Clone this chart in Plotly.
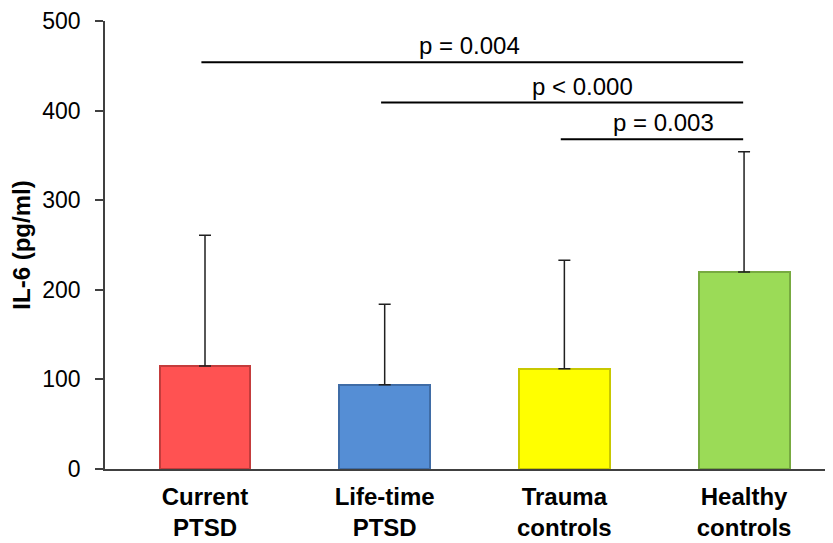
import plotly.graph_objects as go

# ---- data ----
groups = ["Current PTSD", "Life-time PTSD", "Trauma controls", "Healthy controls"]
tick_labels = ["Current<br>PTSD", "Life-time<br>PTSD", "Trauma<br>controls", "Healthy<br>controls"]
il6_mean = [115, 94, 112, 220]
il6_sd = [146, 90, 121, 134]
bar_colors = ["#FF5252", "#558ED5", "#FFFF00", "#9BDB57"]
edge_colors = ["#C43C3C", "#3F6CA6", "#C8C800", "#77AA40"]

sig_from = [0, 1, 2]
sig_to = [3, 3, 3]
sig_level = [454, 409, 368]
sig_text = ["p = 0.004", "p < 0.000", "p = 0.003"]
sig_text_x = [1.47, 2.1, 2.55]

y_ticks = [0, 100, 200, 300, 400, 500]

FONT = "Liberation Sans, Arial, sans-serif"

fig = go.Figure()
xpos = list(range(len(groups)))
fig.add_trace(go.Bar(
    x=xpos, y=il6_mean, width=0.506,
    marker=dict(color=bar_colors, line=dict(color=edge_colors, width=2)),
    error_y=dict(type="data", symmetric=False, array=il6_sd,
                 arrayminus=[0] * len(il6_sd), color="#202020",
                 thickness=1.5, width=6),
    hoverinfo="skip", showlegend=False,
))

for a, b, lvl, txt, tx in zip(sig_from, sig_to, sig_level, sig_text, sig_text_x):
    fig.add_trace(go.Scatter(
        x=[a - 0.02, b - 0.005], y=[lvl, lvl], mode="lines",
        line=dict(color="black", width=2), hoverinfo="skip", showlegend=False,
    ))
    fig.add_annotation(x=tx, y=lvl, text=txt, showarrow=False,
                       xref="x", yref="y", yanchor="bottom", yshift=1,
                       font=dict(family=FONT, size=24, color="black"))

# page body has an 8px margin, so the figure is sized/offset to compensate
fig.update_layout(
    width=825, height=535,
    margin=dict(l=97, r=0, t=13, b=74),
    plot_bgcolor="white", paper_bgcolor="white",
    font=dict(family=FONT, color="black"),
    bargap=0,
)
fig.update_xaxes(
    range=[-0.5565, 3.495], tickmode="array", tickvals=xpos, ticktext=tick_labels,
    tickfont=dict(family=FONT, size=24, color="black", weight="bold"),
    ticklabelstandoff=5,
    showline=True, linecolor="#404040", linewidth=1.5, ticks="",
    showgrid=False, zeroline=False,
)
fig.update_yaxes(
    range=[0, 500], tickmode="array", tickvals=y_ticks,
    tickfont=dict(family=FONT, size=23, color="black"),
    ticklabelstandoff=10,
    showline=True, linecolor="#404040", linewidth=1.5,
    ticks="outside", ticklen=8, tickcolor="#404040", tickwidth=1.5,
    showgrid=False, zeroline=False,
    title=dict(text="<b>IL-6 (pg/ml)</b>", font=dict(family=FONT, size=24, color="black"), standoff=7),
)

fig.write_html("out.html")
